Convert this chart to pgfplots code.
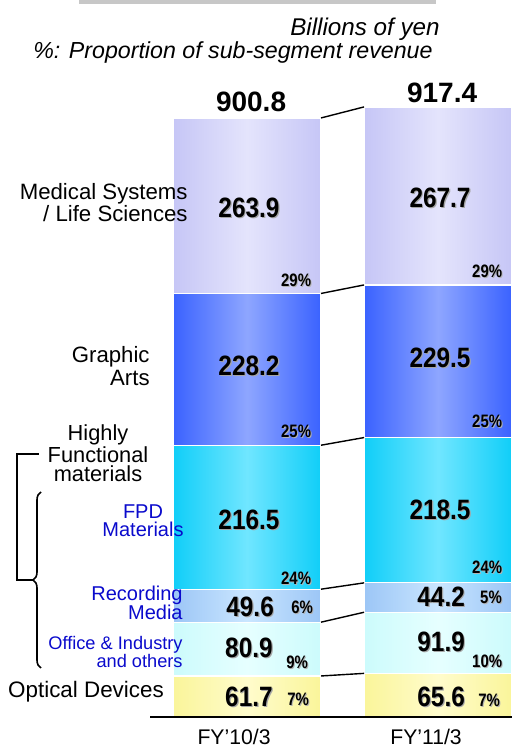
\documentclass[border=0pt]{standalone}
\usepackage{fontspec}
\setmainfont{Liberation Sans}
\usepackage{pgfplots}
\usepackage{pgfplotstable}
\pgfplotsset{compat=1.18}
\usetikzlibrary{decorations.pathreplacing}

\definecolor{medEdge}{HTML}{C6C6F6}\definecolor{medMid}{HTML}{E4E4FC}
\definecolor{graEdge}{HTML}{3A62FF}\definecolor{graMid}{HTML}{8EA6FF}
\definecolor{fpdEdge}{HTML}{10CEF8}\definecolor{fpdMid}{HTML}{70E6FF}
\definecolor{recEdge}{HTML}{9CC6F6}\definecolor{recMid}{HTML}{CAE6FF}
\definecolor{offEdge}{HTML}{CCFBFC}\definecolor{offMid}{HTML}{E6FFFF}
\definecolor{optEdge}{HTML}{FAF59A}\definecolor{optMid}{HTML}{FFFCCC}
\definecolor{lblue}{HTML}{0A0ACC}

% one table per bar, so that each bar gets its own shading
\pgfplotstableread{
x opt off rec fpd gra med
0 61.7 80.9 49.6 216.5 228.2 263.9
}\barA
\pgfplotstableread{
x opt off rec fpd gra med
1 65.6 91.9 44.2 218.5 229.5 267.7
}\barB

% cumulative tops, joined from right edge of bar 1 to left edge of bar 2
\pgfplotstableread{
x a b c d e f
0.3874 61.7 142.6 192.2 408.7 636.9 900.8
0.6126 65.6 157.5 201.7 420.2 649.7 917.4
}\linktab

\newcommand{\val}[1]{\scalebox{0.87}[1]{\fontsize{14}{14}\selectfont\bfseries #1}}
\newcommand{\pct}[1]{\scalebox{0.83}[1]{\fontsize{9}{9}\selectfont\bfseries #1\%}}
\newcommand{\shval}[3]{%
  \node[inner sep=0,text=black!35,xshift=0.6pt,yshift=-0.6pt] at (axis cs:#1,#2) {\val{#3}};
  \node[inner sep=0] at (axis cs:#1,#2) {\val{#3}};}
\newcommand{\shpct}[3]{%
  \node[inner sep=0,text=black!30,xshift=0.5pt,yshift=-0.5pt] at (axis cs:#1,#2) {\pct{#3}};
  \node[inner sep=0] at (axis cs:#1,#2) {\pct{#3}};}

\newcommand{\stackbars}[1]{%
\addplot[left color=optEdge, right color=optEdge, middle color=optMid] table[x=x,y=opt] {#1};
\addplot[left color=offEdge, right color=offEdge, middle color=offMid] table[x=x,y=off] {#1};
\addplot[left color=recEdge, right color=recEdge, middle color=recMid] table[x=x,y=rec] {#1};
\addplot[left color=fpdEdge, right color=fpdEdge, middle color=fpdMid] table[x=x,y=fpd] {#1};
\addplot[left color=graEdge, right color=graEdge, middle color=graMid] table[x=x,y=gra] {#1};
\addplot[left color=medEdge, right color=medEdge, middle color=medMid] table[x=x,y=med] {#1};}

\pgfplotsset{common/.style={
  scale only axis, width=181pt, height=332.5pt,
  xmin=-0.508, xmax=1.387, ymin=0, ymax=1000,
  clip=false, xtick=\empty, ytick=\empty},
  bars/.style={common, axis lines=none, ybar stacked, bar width=74pt,
  every axis plot/.append style={draw=white, line width=0.6pt}}}

\begin{document}
\begin{tikzpicture}
\useasboundingbox (-75pt,-15pt) rectangle (181pt,358.5pt);
\fill[black!22] (-35.5pt,356.5pt) rectangle (143pt,358.5pt);

\begin{axis}[bars]
\stackbars{\barA}
\end{axis}
\begin{axis}[bars]
\stackbars{\barB}
\end{axis}

\begin{axis}[common, axis x line*=bottom, axis y line=none,
  x axis line style={-, line width=0.6pt}]
\foreach \c in {a,b,c,d,e,f}{
  \addplot[black, line width=0.7pt] table[x=x,y=\c] {\linktab};
}
\shval{0.01}{765.4}{263.9}  \shpct{0.257}{657.1}{29}
\shval{0.01}{527.8}{228.2}  \shpct{0.257}{430.1}{25}
\shval{0.01}{296.2}{216.5}  \shpct{0.257}{209}{24}
\shval{0.016}{165.4}{49.6}  \shpct{0.288}{165.4}{6}
\shval{0.01}{103.8}{80.9}   \shpct{0.262}{82.7}{9}
\shval{0.01}{30.1}{61.7}    \shpct{0.267}{27.1}{7}

\shval{1.010}{780.5}{267.7} \shpct{1.257}{670.7}{29}
\shval{1.010}{539.8}{229.5} \shpct{1.257}{445.1}{25}
\shval{1.010}{311.3}{218.5} \shpct{1.257}{225.6}{24}
\shval{1.016}{180.5}{44.2}  \shpct{1.277}{180.5}{5}
\shval{1.016}{112.8}{91.9}  \shpct{1.257}{84.2}{10}
\shval{1.016}{30.1}{65.6}   \shpct{1.267}{25.6}{7}

\node[inner sep=0,font=\fontsize{14}{14}\selectfont\bfseries] at (axis cs:0.021,924.8) {900.8};
\node[inner sep=0,font=\fontsize{14}{14}\selectfont\bfseries] at (axis cs:1.021,938.3) {917.4};

\node[inner sep=0,anchor=south,font=\fontsize{10.6}{12}\selectfont] at (axis cs:-0.068,-43) {FY’10/3};
\node[inner sep=0,anchor=south,font=\fontsize{10.6}{12}\selectfont] at (axis cs:0.937,-43) {FY’11/3};
\end{axis}

% header
\node[inner sep=0,anchor=base east,font=\fontsize{12.1}{13}\selectfont\itshape] at (145pt,340.5pt) {Billions of yen};
\node[inner sep=0,anchor=base east,font=\fontsize{11.6}{12}\selectfont\itshape] at (141.5pt,329pt) {\%: Proportion of sub-segment revenue};

% left labels
\node[inner sep=0,anchor=east,align=right,font=\fontsize{11.1}{11}\selectfont] at (19pt,257pt) {Medical Systems\\/ Life Sciences};
\node[inner sep=0,anchor=east,align=right,font=\fontsize{11.1}{11.5}\selectfont] at (0pt,175.5pt) {Graphic\\Arts};
\node[inner sep=0,align=center,font=\fontsize{10.9}{9.5}\selectfont] at (-26pt,132pt) {Highly\\Functional\\materials};
\node[inner sep=0,align=center,text=lblue,font=\fontsize{10}{9.2}\selectfont] at (-3.5pt,98pt) {FPD\\Materials};
\node[inner sep=0,anchor=east,align=right,text=lblue,font=\fontsize{10}{9.6}\selectfont] at (16.5pt,57.25pt) {Recording\\Media};
\node[inner sep=0,anchor=east,align=right,text=lblue,font=\fontsize{9.1}{9}\selectfont] at (16.5pt,32.5pt) {Office \& Industry\\and others};
\node[inner sep=0,font=\fontsize{11.2}{12}\selectfont] at (-32pt,12.5pt) {Optical Devices};

% brackets
\draw[line width=0.8pt] (-55.5pt,131.5pt) -- (-66.5pt,131.5pt) -- (-66.5pt,68.5pt) -- (-58.5pt,68.5pt);
\draw[line width=0.8pt, decorate, decoration={brace, amplitude=4pt}] (-54.5pt,24.5pt) -- (-54.5pt,112.5pt);
\end{tikzpicture}
\end{document}
